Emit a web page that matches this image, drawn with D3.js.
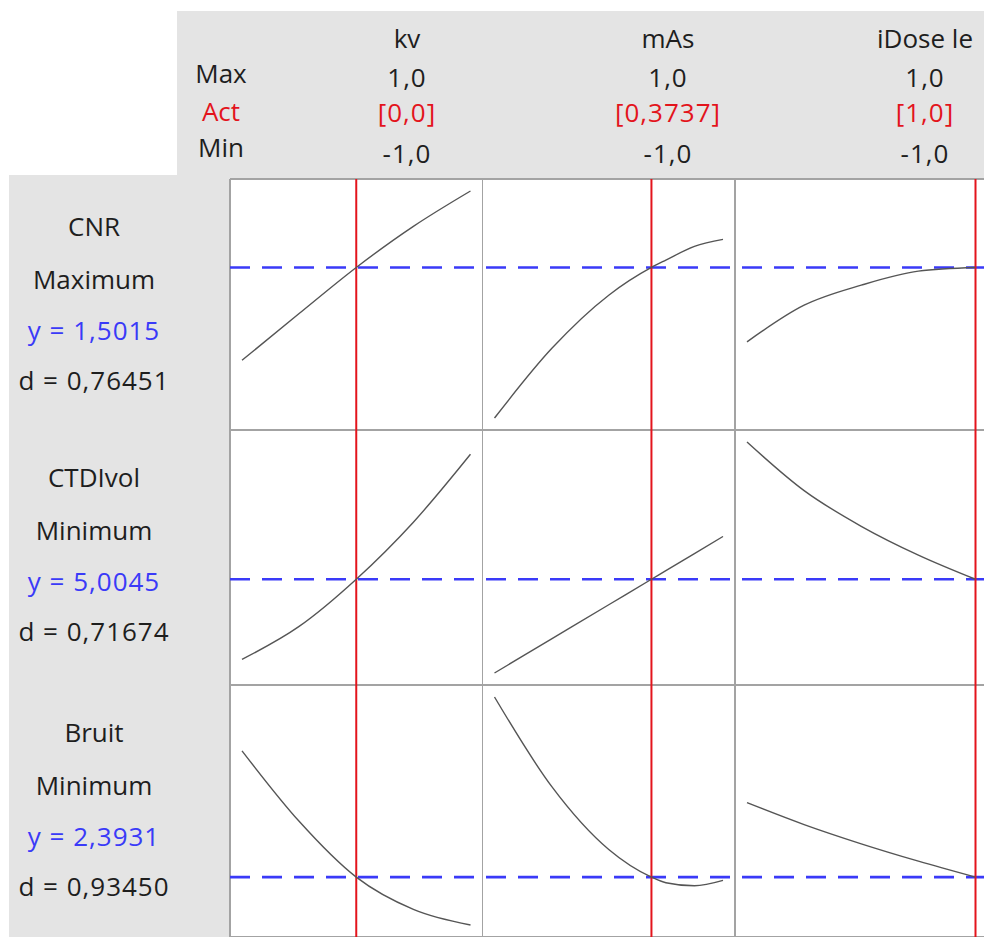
<!DOCTYPE html>
<html><head><meta charset="utf-8">
<script src="https://cdn.jsdelivr.net/npm/d3@7"></script>
<style>
html,body{margin:0;padding:0;background:#fff;}
svg{display:block;}
text{font-family:"Open Sans","Noto Sans",sans-serif;}
</style></head>
<body>
<svg id="chart" width="984" height="937"></svg>
<script>
// ---------- data ----------
const factors = ["kv", "mAs", "iDose le"];
const factorMax = ["1,0", "1,0", "1,0"];
const factorAct = ["[0,0]", "[0,3737]", "[1,0]"];
const factorMin = ["-1,0", "-1,0", "-1,0"];
const actSettings = [0, 0.3737, 1];
const headerRowLabels = ["Max", "Act", "Min"];

const responses = ["CNR", "CTDIvol", "Bruit"];
const goals = ["Maximum", "Minimum", "Minimum"];
const yLabels = ["y = 1,5015", "y = 5,0045", "y = 2,3931"];
const dLabels = ["d = 0,76451", "d = 0,71674", "d = 0,93450"];
const yCurrent = [1.5015, 5.0045, 2.3931];

// factor settings at which each profile was read
const kvX = [-1, -0.5, 0, 0.5, 1];
const masX = [-1, -0.5, 0, 0.3737, 0.5, 0.75, 1];
const idoseX = [-1, -0.5, 0, 0.5, 1];

// predicted responses along each factor (others held at current settings)
const cnrKv = [1.1307, 1.3175, 1.5015, 1.6655, 1.8067];
const cnrMas = [0.9003, 1.1775, 1.3907, 1.5015, 1.5307, 1.5855, 1.6135];
const cnrIdose = [1.2043, 1.3507, 1.4307, 1.4867, 1.5015];

const ctdiKv = [3.4325, 4.0785, 5.0045, 6.1245, 7.4585];
const ctdiMas = [3.1645, 3.8345, 4.5045, 5.0045, 5.1745, 5.5085, 5.8445];
const ctdiIdose = [7.6985, 6.7445, 6.0445, 5.4785, 5.0045];

const bruitKv = [3.6601, 2.9531, 2.3931, 2.0701, 1.9131];
const bruitMas = [4.2001, 3.3031, 2.6701, 2.3931, 2.3371, 2.3061, 2.3601];
const bruitIdose = [3.1401, 2.9201, 2.7271, 2.5531, 2.3931];

// ---------- layout ----------
const W = 984, H = 937;
const gridLeft = 230, colW = 252.5;
const rowEdges = [179, 430, 685, 937];
const pad = 12;
const gray = "#e4e4e4";
const gridColor = "#a3a3a3";
const red = "#e3141c";
const blue = "#3a3af8";
const txt = "#1e1e1e";
const fontSize = 26;

const xsByCol = [kvX, masX, idoseX];
const series = [
  [cnrKv, cnrMas, cnrIdose],
  [ctdiKv, ctdiMas, ctdiIdose],
  [bruitKv, bruitMas, bruitIdose]
];

const svg = d3.select("#chart");

// grey panels
svg.append("rect").attr("x", 177).attr("y", 11).attr("width", W - 177).attr("height", rowEdges[0] - 11 + 1).attr("fill", gray);
svg.append("rect").attr("x", 9).attr("y", 175).attr("width", gridLeft - 9).attr("height", H - 175).attr("fill", gray);

// plot area background
const colEdges = d3.range(4).map(i => gridLeft + i * colW);
svg.append("rect").attr("x", gridLeft).attr("y", rowEdges[0]).attr("width", colEdges[3] - gridLeft).attr("height", rowEdges[3] - rowEdges[0]).attr("fill", "#fff");

// x scales per column
const xScales = factors.map((f, j) => d3.scaleLinear().domain([-1, 1]).range([colEdges[j] + pad, colEdges[j + 1] - pad]));
// y scales per row (shared by the row's cells)
const yScales = responses.map((r, i) => {
  const ext = d3.extent(series[i].flat());
  return d3.scaleLinear().domain(ext).range([rowEdges[i + 1] - pad, rowEdges[i] + pad]);
});

// grid lines
const grid = svg.append("g").attr("stroke", gridColor).attr("stroke-width", 1.5).attr("shape-rendering", "crispEdges");
colEdges.forEach(x => grid.append("line").attr("x1", x).attr("x2", x).attr("y1", rowEdges[0]).attr("y2", rowEdges[3]));
rowEdges.forEach(y => grid.append("line").attr("x1", gridLeft).attr("x2", colEdges[3]).attr("y1", y).attr("y2", y));

// blue dashed current response lines
const bl = svg.append("g");
responses.forEach((r, i) => {
  const y = yScales[i](yCurrent[i]);
  bl.append("line").attr("x1", gridLeft).attr("x2", colEdges[3]).attr("y1", y).attr("y2", y)
    .attr("stroke", blue).attr("stroke-width", 2.6).attr("stroke-dasharray", "20,12");
});

// red current setting lines
const rl = svg.append("g");
factors.forEach((f, j) => {
  const x = xScales[j](actSettings[j]);
  rl.append("line").attr("x1", x).attr("x2", x).attr("y1", rowEdges[0]).attr("y2", rowEdges[3])
    .attr("stroke", red).attr("stroke-width", 2);
});

// profile curves
const curves = svg.append("g");
responses.forEach((r, i) => {
  factors.forEach((f, j) => {
    const pts = xsByCol[j].map((x, k) => [x, series[i][j][k]]);
    const line = d3.line().x(d => xScales[j](d[0])).y(d => yScales[i](d[1])).curve(d3.curveMonotoneX);
    curves.append("path").attr("d", line(pts)).attr("fill", "none").attr("stroke", "#555").attr("stroke-width", 1.4);
  });
});

// header texts
const colLabelX = [407, 668, 925];
const hdr = svg.append("g").attr("font-size", fontSize).attr("text-anchor", "middle");
factors.forEach((f, j) => {
  hdr.append("text").attr("x", colLabelX[j]).attr("y", 48).attr("fill", txt).text(f);
  hdr.append("text").attr("x", colLabelX[j]).attr("y", 87).attr("fill", txt).attr("letter-spacing", 1).text(factorMax[j]);
  hdr.append("text").attr("x", colLabelX[j]).attr("y", 122).attr("fill", red).attr("letter-spacing", 1).text(factorAct[j]);
  hdr.append("text").attr("x", colLabelX[j]).attr("y", 163).attr("fill", txt).attr("letter-spacing", 1).text(factorMin[j]);
});
const hdrRowY = [83, 121, 157];
headerRowLabels.forEach((l, k) => {
  hdr.append("text").attr("x", 221).attr("y", hdrRowY[k]).attr("fill", k === 1 ? red : txt).text(l);
});

// left panel texts
const lp = svg.append("g").attr("font-size", fontSize).attr("text-anchor", "middle");
const offs = [48, 101, 152, 202];
responses.forEach((r, i) => {
  const t = rowEdges[i];
  const lines = [[r, txt, 0], [goals[i], txt, 0], [yLabels[i], blue, 1], [dLabels[i], txt, 1]];
  lines.forEach((ln, k) => {
    lp.append("text").attr("x", 94).attr("y", t + offs[k]).attr("dy", "0.35em")
      .attr("fill", ln[1]).attr("letter-spacing", ln[2]).text(ln[0]);
  });
});
</script>
</body></html>
